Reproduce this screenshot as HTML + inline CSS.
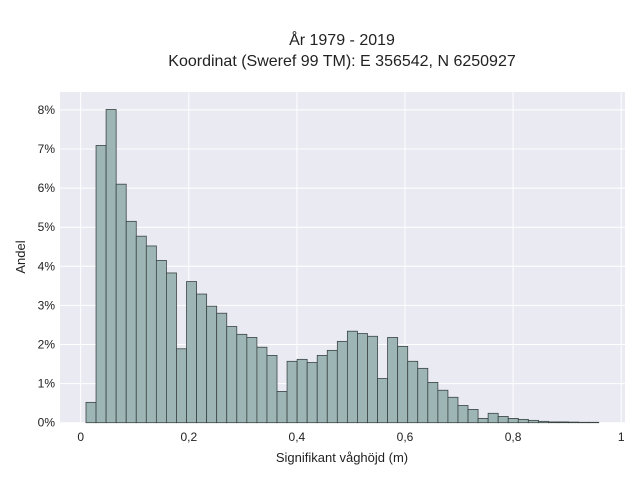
<!DOCTYPE html>
<html><head><meta charset="utf-8"><style>
body{margin:0;background:#fff;font-family:"Liberation Sans",sans-serif;}
svg text{font-family:"Liberation Sans",sans-serif;fill:#222;}
</style></head><body>
<svg width="640" height="480">
<text x="342" y="45" text-anchor="middle" font-size="16">År 1979 - 2019</text>
<text x="342" y="66" text-anchor="middle" font-size="16">Koordinat (Sweref 99 TM): E 356542, N 6250927</text>
<rect x="60" y="92" width="565" height="331" fill="#eaeaf2"/>
<g id="grid"></g>
<g id="bars"></g>
<g id="ticks"></g>
<text x="342" y="462" text-anchor="middle" font-size="13">Signifikant våghöjd (m)</text>
<text transform="translate(25,257) rotate(-90)" text-anchor="middle" font-size="13">Andel</text>
</svg>
<script>
const binStart = 0.0098;
const binWidth = 0.0186;
const values = [0.52,7.09,8.01,6.10,5.15,4.77,4.52,4.15,3.83,1.89,3.61,3.29,2.98,2.80,2.46,2.26,2.18,1.93,1.72,0.80,1.57,1.62,1.54,1.72,1.85,2.08,2.34,2.28,2.21,1.13,2.18,1.95,1.57,1.39,1.03,0.83,0.65,0.44,0.34,0.11,0.24,0.16,0.11,0.085,0.06,0.035,0.02,0.02,0.015,0.01,0.01];
const xTicks = [0,0.2,0.4,0.6,0.8,1];
const xTickLabels = ["0","0,2","0,4","0,6","0,8","1"];
const yTicks = [0,1,2,3,4,5,6,7,8];
const yTickLabels = ["0%","1%","2%","3%","4%","5%","6%","7%","8%"];
const NS="http://www.w3.org/2000/svg";
const X=v=>80.7+v*540.5;
const Y=v=>422.7-v*39.1;
const grid=document.getElementById('grid'),bars=document.getElementById('bars'),ticks=document.getElementById('ticks');
function mk(tag,attrs,parent){const e=document.createElementNS(NS,tag);for(const k in attrs)e.setAttribute(k,attrs[k]);parent.appendChild(e);return e;}
xTicks.forEach((t,i)=>{
 const l=mk('line',{x1:X(t),x2:X(t),y1:92,y2:423,stroke:'#fff','stroke-width':1},grid);
 
 
 const tx=mk('text',{x:X(t),y:441,'text-anchor':'middle','font-size':12},ticks);
 tx.textContent=xTickLabels[i];
 
 
});
yTicks.forEach((t,i)=>{
 const l=mk('line',{x1:60,x2:625,y1:Y(t),y2:Y(t),stroke:'#fff','stroke-width':1},grid);
 
 
 const tx=mk('text',{x:55,y:Y(t)+4,'text-anchor':'end','font-size':12},ticks);
 tx.textContent=yTickLabels[i];
 
 
});
values.forEach((v,i)=>{
 const x0=X(binStart+i*binWidth),x1=X(binStart+(i+1)*binWidth);
 const r=mk('rect',{x:x0,y:Y(v),width:x1-x0,height:Y(0)-Y(v),fill:'#9db6b5',stroke:'#3a4444','stroke-width':0.8},bars);
 
 
});
</script>
</body></html>
